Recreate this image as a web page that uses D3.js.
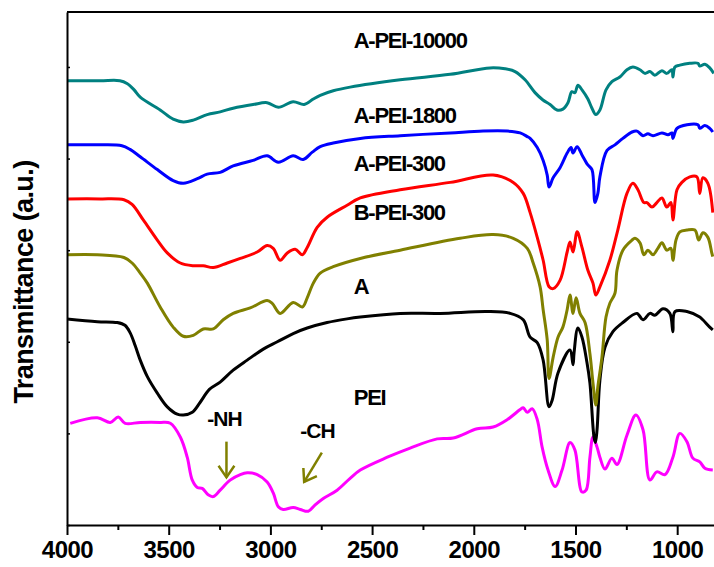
<!DOCTYPE html>
<html>
<head>
<meta charset="utf-8">
<script src="https://cdn.jsdelivr.net/npm/d3@7"></script>
<style>
  body { margin: 0; background: #fff; }
  text { font-family: "Liberation Sans", Arial, sans-serif; font-weight: bold; }
</style>
</head>
<body>
<svg id="ftir"></svg>
<script>
// FTIR spectra, [wavenumber cm-1, transmittance (a.u., offset)]
var aPei10000 = [[4000,4.85],[3836,4.85],[3740,4.85],[3705,4.82],[3670,4.75],[3640,4.67],[3542,4.53],[3478,4.43],[3428,4.40],[3379,4.42],[3311,4.48],[3247,4.51],[3183,4.55],[3085,4.59],[3016,4.61],[2961,4.56],[2888,4.62],[2834,4.59],[2789,4.65],[2755,4.69],[2691,4.74],[2608,4.78],[2362,4.86],[2116,4.92],[1920,4.99],[1846,4.98],[1797,4.95],[1748,4.86],[1699,4.72],[1660,4.64],[1625,4.59],[1591,4.53],[1562,4.54],[1537,4.61],[1518,4.73],[1503,4.72],[1488,4.80],[1468,4.75],[1439,4.65],[1419,4.55],[1400,4.48],[1380,4.53],[1350,4.75],[1321,4.84],[1282,4.89],[1247,4.97],[1218,5.00],[1183,4.97],[1159,4.93],[1134,4.95],[1110,4.91],[1075,4.96],[1051,4.93],[1026,4.97],[1021,4.89],[1011,5.00],[987,5.02],[938,5.04],[898,5.04],[889,5.01],[864,5.03],[840,4.99],[820,4.93]];

var aPei1800 = [[4000,4.15],[3836,4.15],[3730,4.14],[3690,4.10],[3640,4.02],[3556,3.88],[3478,3.76],[3428,3.73],[3359,3.78],[3311,3.83],[3247,3.85],[3183,3.92],[3085,3.98],[3016,4.03],[2961,3.96],[2888,4.03],[2839,3.99],[2794,4.07],[2755,4.13],[2691,4.17],[2558,4.22],[2362,4.25],[2116,4.28],[1954,4.30],[1836,4.30],[1772,4.28],[1737,4.24],[1723,4.22],[1688,4.12],[1659,3.98],[1639,3.82],[1630,3.69],[1610,3.79],[1576,3.90],[1541,4.06],[1522,4.12],[1512,4.06],[1492,4.13],[1468,4.04],[1439,3.93],[1419,3.88],[1404,3.52],[1390,3.62],[1380,3.80],[1345,4.09],[1306,4.15],[1267,4.22],[1222,4.29],[1198,4.30],[1168,4.25],[1144,4.27],[1119,4.25],[1075,4.28],[1045,4.26],[1026,4.28],[1021,4.22],[1001,4.33],[952,4.37],[898,4.37],[889,4.33],[864,4.36],[840,4.33],[825,4.29]];

var aPei300 = [[4000,3.56],[3836,3.56],[3720,3.55],[3680,3.50],[3625,3.33],[3556,3.11],[3507,2.97],[3443,2.86],[3379,2.83],[3330,2.83],[3281,2.81],[3212,2.86],[3148,2.91],[3065,2.98],[3016,3.05],[2986,3.02],[2952,2.89],[2917,2.97],[2878,3.01],[2843,2.95],[2819,3.03],[2770,3.25],[2721,3.36],[2623,3.49],[2558,3.57],[2362,3.66],[2116,3.74],[1905,3.82],[1806,3.74],[1757,3.62],[1723,3.41],[1688,3.14],[1659,2.89],[1630,2.60],[1610,2.58],[1576,2.67],[1541,2.98],[1527,3.09],[1512,2.98],[1492,3.20],[1468,3.03],[1439,2.78],[1414,2.64],[1400,2.51],[1380,2.60],[1331,2.89],[1292,3.22],[1247,3.62],[1218,3.73],[1193,3.66],[1164,3.52],[1149,3.52],[1124,3.47],[1100,3.52],[1075,3.57],[1051,3.47],[1031,3.52],[1021,3.33],[1001,3.66],[977,3.74],[938,3.80],[903,3.80],[889,3.62],[874,3.79],[849,3.73],[825,3.41]];

var bPei300 = [[4000,2.95],[3851,2.95],[3720,2.92],[3680,2.86],[3640,2.75],[3605,2.64],[3542,2.38],[3478,2.16],[3428,2.06],[3379,2.07],[3330,2.14],[3281,2.14],[3232,2.24],[3183,2.31],[3099,2.37],[3016,2.45],[2991,2.42],[2952,2.31],[2888,2.43],[2843,2.38],[2819,2.48],[2789,2.64],[2755,2.75],[2691,2.82],[2558,2.91],[2362,3.00],[2067,3.13],[1905,3.17],[1806,3.13],[1737,3.02],[1708,2.86],[1674,2.60],[1659,2.35],[1639,2.02],[1630,1.60],[1610,1.83],[1586,2.05],[1562,2.16],[1541,2.35],[1527,2.51],[1512,2.31],[1497,2.48],[1478,2.31],[1453,2.21],[1429,1.87],[1414,1.55],[1400,1.31],[1390,1.51],[1370,1.83],[1350,2.27],[1331,2.42],[1306,2.53],[1296,2.78],[1267,3.00],[1222,3.11],[1208,3.13],[1183,3.08],[1164,2.95],[1144,3.00],[1119,2.95],[1095,3.02],[1075,3.08],[1051,3.00],[1031,3.02],[1021,2.89],[1006,3.11],[987,3.20],[952,3.22],[913,3.22],[894,3.11],[874,3.19],[849,3.14],[830,2.97],[825,2.93]];

var sampleA = [[4000,2.25],[3851,2.22],[3753,2.21],[3715,2.18],[3690,2.10],[3665,1.96],[3640,1.80],[3605,1.62],[3556,1.44],[3507,1.29],[3458,1.21],[3428,1.20],[3384,1.23],[3345,1.34],[3300,1.48],[3247,1.56],[3183,1.69],[3114,1.80],[3035,1.92],[2966,2.00],[2888,2.09],[2819,2.15],[2721,2.21],[2623,2.25],[2558,2.27],[2362,2.31],[2165,2.31],[1934,2.33],[1821,2.31],[1757,2.24],[1723,2.05],[1688,1.99],[1659,1.80],[1630,1.29],[1615,1.36],[1586,1.66],[1527,1.91],[1512,1.75],[1507,1.88],[1488,2.15],[1468,2.05],[1444,1.78],[1429,1.55],[1409,0.96],[1402,0.90],[1394,1.04],[1380,1.58],[1355,1.94],[1316,2.11],[1267,2.21],[1198,2.31],[1168,2.24],[1134,2.31],[1110,2.29],[1070,2.36],[1036,2.31],[1021,2.11],[1011,2.33],[952,2.33],[889,2.27],[874,2.24],[840,2.16],[825,2.13]];

var pei = [[3984,1.11],[3851,1.17],[3787,1.12],[3748,1.18],[3714,1.11],[3640,1.12],[3542,1.12],[3492,1.11],[3443,0.96],[3409,0.74],[3384,0.49],[3359,0.41],[3335,0.40],[3306,0.33],[3281,0.31],[3247,0.38],[3198,0.49],[3148,0.55],[3114,0.57],[3065,0.55],[3016,0.47],[2986,0.35],[2961,0.20],[2937,0.17],[2888,0.19],[2853,0.17],[2814,0.15],[2780,0.22],[2740,0.29],[2672,0.38],[2608,0.51],[2558,0.60],[2425,0.74],[2313,0.84],[2180,0.94],[2101,0.95],[1983,1.05],[1905,1.07],[1836,1.15],[1772,1.26],[1757,1.28],[1737,1.23],[1713,1.27],[1688,1.15],[1664,0.85],[1635,0.60],[1600,0.42],[1566,0.60],[1527,0.90],[1503,0.82],[1468,0.36],[1448,0.38],[1429,0.74],[1414,0.96],[1394,0.85],[1380,0.74],[1355,0.61],[1321,0.73],[1296,0.66],[1247,0.98],[1203,1.20],[1168,1.04],[1134,0.49],[1100,0.58],[1060,0.55],[1021,0.74],[987,1.00],[952,0.91],[923,0.73],[889,0.69],[864,0.62],[825,0.60]];

var seriesNames = ['PEI', 'A', 'B-PEI-300', 'A-PEI-300', 'A-PEI-1800', 'A-PEI-10000'];
var seriesData = [pei, sampleA, bPei300, aPei300, aPei1800, aPei10000];
var seriesColors = ['#ff00ff', '#000000', '#808000', '#ff0000', '#0000ff', '#008080'];
// where each name is written (wavenumber, a.u.)
var labelPos = [[2590, 1.31], [2590, 2.52], [2590, 3.33], [2590, 3.86], [2590, 4.39], [2590, 5.21]];

var xTicks = [4000, 3500, 3000, 2500, 2000, 1500, 1000];
var xMinor = [3750, 3250, 2750, 2250, 1750, 1250];
var yTicks = [0, 1, 2, 3, 4, 5];

// band markers: text, text anchor, arrow from, arrow to
var marks = [
  {text: '-NH', at: [3310, 1.08], from: [3216, 0.91], to: [3216, 0.52]},
  {text: '-CH', at: [2853, 0.95], from: [2747, 0.79], to: [2834, 0.47]}
];

var width = 714, height = 567;
var margins = {top: 12, left: 67, bottom: 42};

var svg = d3.select('#ftir')
  .attr('width', width)
  .attr('height', height);

var xScale = d3.scaleLinear()
  .domain([4000, 819])
  .range([margins.left, width]);

var yScale = d3.scaleLinear()
  .domain([0, 5.6])
  .range([height - margins.bottom, margins.top]);

svg.append('defs').append('clipPath').attr('id', 'plotclip')
  .append('rect')
  .attr('x', margins.left).attr('y', margins.top)
  .attr('width', width - margins.left)
  .attr('height', height - margins.bottom - margins.top);

// spectra
var line = d3.line()
  .x(d => xScale(d[0]))
  .y(d => yScale(d[1]))
  .curve(d3.curveCatmullRom.alpha(0.5));

var plot = svg.append('g').attr('clip-path', 'url(#plotclip)');
seriesData.forEach(function (s, i) {
  plot.append('path')
    .datum(s)
    .attr('d', line)
    .attr('fill', 'none')
    .attr('stroke', seriesColors[i])
    .attr('stroke-width', 3)
    .attr('stroke-linejoin', 'round');
});

// frame
svg.append('line')
  .attr('x1', margins.left).attr('x2', width)
  .attr('y1', margins.top).attr('y2', margins.top)
  .attr('stroke', '#000').attr('stroke-width', 2);

var xAxis = svg.append('g')
  .attr('transform', 'translate(0,' + (height - margins.bottom) + ')')
  .call(d3.axisBottom(xScale).tickValues(xTicks).tickFormat(d3.format('d'))
    .tickSize(10).tickSizeOuter(0).tickPadding(6));
xAxis.select('.domain').attr('stroke-width', 2);
xAxis.selectAll('.tick line').attr('stroke-width', 2);
xAxis.selectAll('text')
  .style('font-size', '24px')
  .style('font-family', '"Liberation Sans", Arial, sans-serif')
  .style('font-weight', 'bold')
  .style('letter-spacing', '-0.5px')
  .attr('fill', '#000');

var xMinorAxis = svg.append('g')
  .attr('transform', 'translate(0,' + (height - margins.bottom) + ')')
  .call(d3.axisBottom(xScale).tickValues(xMinor).tickSize(5).tickFormat(''));
xMinorAxis.select('.domain').remove();
xMinorAxis.selectAll('.tick line').attr('stroke-width', 2);

var yAxis = svg.append('g')
  .attr('transform', 'translate(' + margins.left + ',0)')
  .call(d3.axisLeft(yScale).tickValues(yTicks).tickSize(-3).tickSizeOuter(0).tickFormat(''));
yAxis.select('.domain').attr('stroke-width', 2);
yAxis.selectAll('.tick line').attr('stroke-width', 1.5);

svg.append('text')
  .attr('transform', 'translate(33,' + 282 + ') rotate(-90)')
  .attr('text-anchor', 'middle')
  .style('font-size', '27px')
  .style('letter-spacing', '-0.6px')
  .text('Transmittance (a.u.)');

// series labels
seriesNames.forEach(function (name, i) {
  svg.append('text')
    .attr('x', xScale(labelPos[i][0]))
    .attr('y', yScale(labelPos[i][1]))
    .style('font-size', '22px')
    .style('letter-spacing', '-1.3px')
    .text(name);
});

// band arrows
marks.forEach(function (m) {
  svg.append('text')
    .attr('x', xScale(m.at[0]))
    .attr('y', yScale(m.at[1]))
    .style('font-size', '21px')
    .style('letter-spacing', '-1px')
    .text(m.text);

  var x1 = xScale(m.from[0]), y1 = yScale(m.from[1]);
  var x2 = xScale(m.to[0]), y2 = yScale(m.to[1]);
  var ang = Math.atan2(y2 - y1, x2 - x1);
  var head = 14, spread = 0.6;
  var g = svg.append('g').attr('stroke', '#808000').attr('stroke-width', 2.5).attr('fill', 'none');
  g.append('line').attr('x1', x1).attr('y1', y1).attr('x2', x2).attr('y2', y2);
  g.append('polyline')
    .attr('points', [
      [x2 - head * Math.cos(ang - spread), y2 - head * Math.sin(ang - spread)],
      [x2, y2],
      [x2 - head * Math.cos(ang + spread), y2 - head * Math.sin(ang + spread)]
    ].map(p => p.join(',')).join(' '))
    .attr('stroke-linejoin', 'miter');
});
</script>
</body>
</html>
